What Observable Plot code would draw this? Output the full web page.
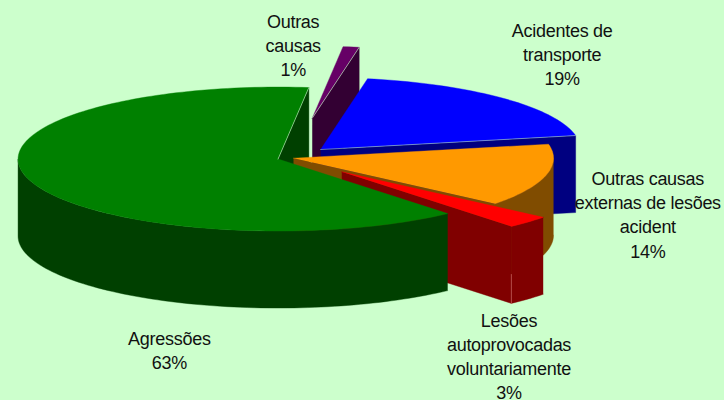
<!DOCTYPE html>
<html>
<head>
<meta charset="utf-8">
<style>html,body{margin:0;padding:0;background:#ccffcc}svg{display:block}</style>
<script src="https://cdn.jsdelivr.net/npm/d3@7"></script>
<script src="https://cdn.jsdelivr.net/npm/@observablehq/plot@0.6"></script>
</head>
<body>
<div id="chart"></div>
<script>
// Data, clockwise from the top of the pie (estimated; labels show them rounded)
const categories = ["Outras\ncausas", "Acidentes de\ntransporte", "Outras causas\nexternas de lesões\nacident", "Lesões\nautoprovocadas\nvoluntariamente", "Agressões"];
const shares = [1, 19, 14, 2.8, 63.2];

// Style and layout
const topColors = ["#660066", "#0000ff", "#ff9900", "#ff0000", "#008000"];
const wallColors = ["#330033", "#000080", "#804c00", "#800000", "#004000"];
const explode = [0.56, 0.165, 0.012, 0.275, 0.05];
const labelOffsetX = [-58, 59, 102, -19, 140];
const labelOffsetY = [-3, -45, 38, 133, 169];
const pie = {x: 290, y: 157.5, rx: 260, ry: 72, depth: 77, start: 6.8};

const rad = (d) => (d * Math.PI) / 180;
let acc = pie.start;
const slices = shares.map((v, i) => {
  const a0 = acc, a1 = acc + (v / 100) * 360;
  acc = a1;
  const mid = (a0 + a1) / 2;
  const cx = pie.x + explode[i] * pie.rx * Math.sin(rad(mid));
  const cy = pie.y - explode[i] * pie.ry * Math.cos(rad(mid));
  const at = (t, d = 0) => ({x: cx + pie.rx * Math.sin(rad(t)), y: cy - pie.ry * Math.cos(rad(t)) + d});
  const apex = (d = 0) => ({x: cx, y: cy + d});
  return {i, a0, a1, mid, at, apex};
});

function arc(s, a0, a1, d = 0) {
  const n = Math.max(2, Math.ceil(Math.abs(a1 - a0) / 1.5));
  return d3.range(n + 1).map((k) => s.at(a0 + ((a1 - a0) * k) / n, d));
}
const topFace = (s) => [s.apex(), ...arc(s, s.a0, s.a1)];
const edgeWall = (s, a) => [s.apex(), s.at(a), s.at(a, pie.depth), s.apex(pie.depth)];
function frontWall(s) {
  const a0 = Math.max(s.a0, 90), a1 = Math.min(s.a1, 270);
  return a1 > a0 ? [...arc(s, a0, a1), ...arc(s, a1, a0, pie.depth)] : [];
}
const poly = (pts, fill) => Plot.line(pts, {x: "x", y: "y", fill, stroke: fill, strokeWidth: 0.4});
const glint = (pts, stroke, opacity) => Plot.line(pts, {x: "x", y: "y", stroke, strokeWidth: 0.8, strokeOpacity: opacity});

const [purple, blue, orange, red, green] = slices;
const solid = (s, a) => [poly(edgeWall(s, a), wallColors[s.i]), poly(frontWall(s), wallColors[s.i]), poly(topFace(s), topColors[s.i])];

const pieMarks = [
  ...solid(purple, purple.a1),
  glint([purple.apex(), purple.at(purple.a1)], "#ccffcc", 0.7),
  poly(edgeWall(green, green.a1), wallColors[4]),
  ...solid(blue, blue.a1),
  glint([blue.apex(), blue.at(blue.a1)], "#ccffcc", 0.6),
  ...solid(orange, orange.a1),
  ...solid(red, red.a1),
  glint([red.at(red.a1, 48), red.at(red.a1, pie.depth)], "#ff9999", 0.5),
  poly(frontWall(green), wallColors[4]),
  poly(topFace(green), topColors[4]),
  glint([green.apex(), green.at(green.a1)], "#ccffcc", 0.7)
];

const labelRows = slices.map((s) => {
  const m = s.at(s.mid);
  return {
    x: m.x + labelOffsetX[s.i],
    y: m.y + labelOffsetY[s.i],
    text: `${categories[s.i]}\n${Math.round(shares[s.i])}%`
  };
});

const chart = Plot.plot({
  width: 724,
  height: 400,
  margin: 0,
  x: {domain: [0, 724], range: [0, 724], axis: null},
  y: {domain: [0, 400], range: [0, 400], axis: null},
  style: {background: "#ccffcc", letterSpacing: "-0.28px"},
  marks: [
    ...pieMarks,
    Plot.text(labelRows, {
      x: "x", y: "y", text: "text",
      fontSize: 18, lineHeight: 1.34,
      fontFamily: "Liberation Sans, Arial, sans-serif",
      fill: "#111"
    })
  ]
});
document.getElementById("chart").append(chart);
</script>
</body>
</html>
